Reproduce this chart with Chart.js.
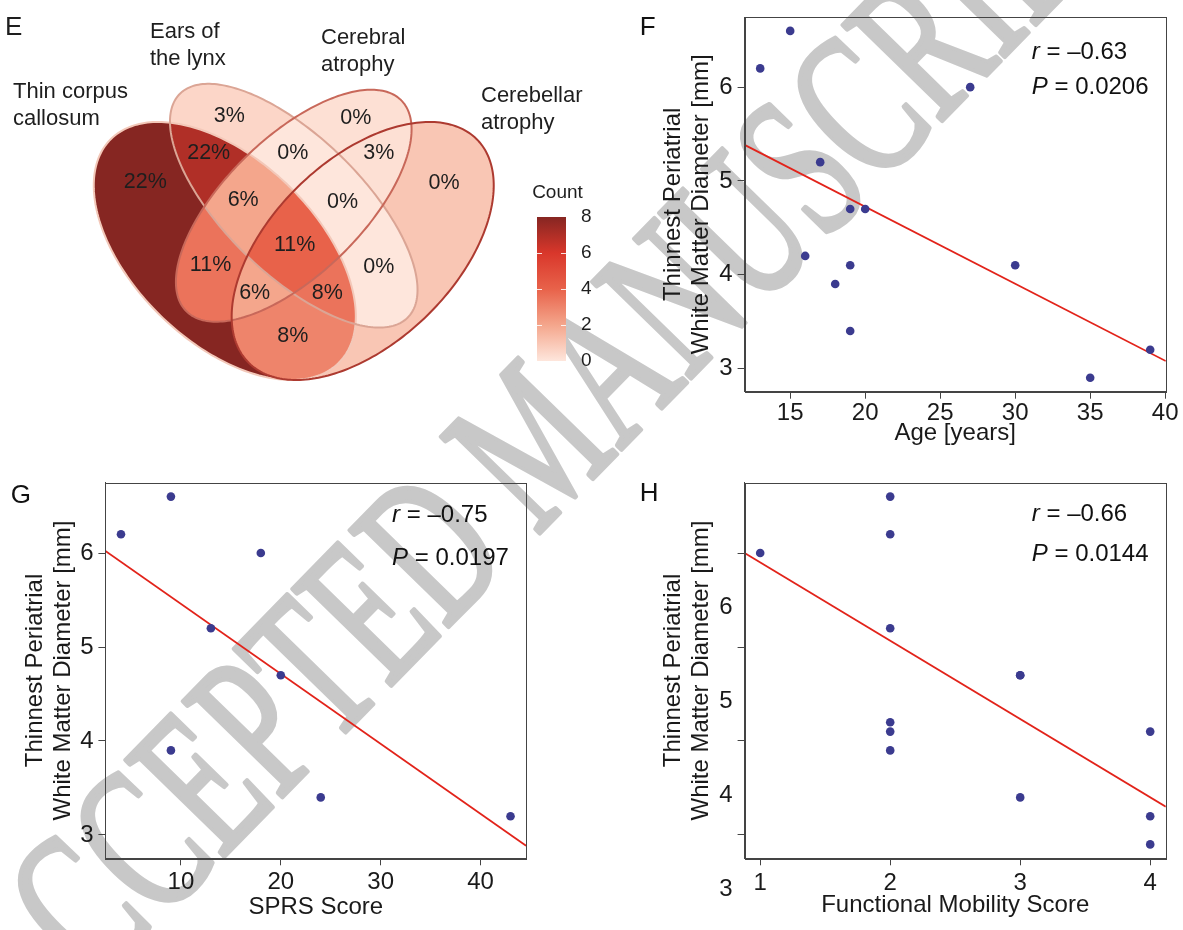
<!DOCTYPE html>
<html>
<head>
<meta charset="utf-8">
<script src="https://cdn.jsdelivr.net/npm/chart.js@4.4.1/dist/chart.umd.min.js"></script>
<style>
  body { margin: 0; background: #fff; width: 1183px; height: 930px; position: relative; overflow: hidden; }
  canvas { position: absolute; }
</style>
</head>
<body>
<canvas id="wm" width="1183" height="930" style="left:0;top:0"></canvas>
<canvas id="venn" width="620" height="460" style="left:0;top:0"></canvas>
<canvas id="cbar" width="100" height="210" style="left:500px;top:170px"></canvas>
<canvas id="panelF" width="563" height="460" style="left:620px;top:0"></canvas>
<canvas id="panelG" width="620" height="470" style="left:0;top:460px"></canvas>
<canvas id="panelH" width="563" height="470" style="left:620px;top:460px"></canvas>
<script>
// ---- data ----
// per patient, sorted by diameter
var diameterMm    = [6.6, 6.2, 6.0, 5.2, 4.7, 4.7, 4.2, 4.1, 4.1, 3.9, 3.4, 3.2, 2.9];
var ageYears      = [15, 13, 27, 17, 19, 20, 16, 19, 30, 18, 19, 39, 35];
var sprsScore     = [9, 4, 18, 13, 20, null, null, null, null, 9, 24, 43, null];
var mobilityScore = [2, 2, 1, 2, 3, 3, 2, 2, 4, 2, 3, 4, 4];

var ageTicks      = [15, 20, 25, 30, 35, 40];
var sprsTicks     = [10, 20, 30, 40];
var mobilityTicks = [1, 2, 3, 4];
var diameterTicks = [3, 4, 5, 6];

var statsF = ['–0.63', '0.0206'];
var statsG = ['–0.75', '0.0197'];
var statsH = ['–0.66', '0.0144'];

// venn: A = thin corpus callosum, B = ears of the lynx, C = cerebral, D = cerebellar
var vennSets      = [['Thin corpus', 'callosum'], ['Ears of', 'the lynx'], ['Cerebral', 'atrophy'], ['Cerebellar', 'atrophy']];
var vennRegions   = ['A', 'B', 'C', 'D', 'AB', 'AC', 'AD', 'BC', 'BD', 'CD', 'ABC', 'ABD', 'ACD', 'BCD', 'ABCD'];
var vennPercent   = ['22%', '3%', '0%', '0%', '22%', '11%', '8%', '0%', '0%', '3%', '6%', '8%', '6%', '0%', '11%'];
var vennFillCount = [8, 0.5, 0.2, 1, 7, 3.5, 3, 0, 0, 0.2, 2, 3.5, 2, 0, 4];
var countTicks    = [0, 2, 4, 6, 8];
var countColors   = ['#fee6dc', '#f4a68c', '#e8624a', '#d9372b', '#862622'];

// ---- style / layout ----
var FONT = '"Liberation Sans", Arial, Helvetica, sans-serif';
var SET_KEYS = ['A', 'B', 'C', 'D'];
// ggVennDiagram 4-set ellipses: x0, y0, a, b, rotation
var vennShapes = [
  [0.35, 0.47, 0.35, 0.20, 135],
  [0.50, 0.57, 0.35, 0.15, 135],
  [0.50, 0.57, 0.33, 0.15, 45],
  [0.65, 0.47, 0.35, 0.20, 45]
];
// label anchor of each region, in the same units as the shapes
var vennLabelPos = [
  [0.177, 0.623], [0.360, 0.767], [0.635, 0.763], [0.827, 0.620],
  [0.315, 0.686], [0.319, 0.439], [0.498, 0.281], [0.498, 0.686], [0.685, 0.435], [0.685, 0.686],
  [0.390, 0.583], [0.573, 0.376], [0.415, 0.376], [0.606, 0.579], [0.502, 0.483]
];
var vennEdge = ['#f3c8b9', '#dba595', '#c8685a', '#ad3a30'];
var vennSetPos = [[13, 92], [150, 32], [321, 38], [481, 96]];

Chart.defaults.font.family = FONT;
Chart.defaults.color = '#1a1a1a';

function hexRgb(h) {
  return [parseInt(h.substr(1, 2), 16), parseInt(h.substr(3, 2), 16), parseInt(h.substr(5, 2), 16)];
}
function countColor(v) {
  var i = 0;
  while (i < countTicks.length - 2 && v > countTicks[i + 1]) i++;
  var t = (v - countTicks[i]) / (countTicks[i + 1] - countTicks[i]);
  var a = hexRgb(countColors[i]), b = hexRgb(countColors[i + 1]);
  return 'rgb(' + a.map(function (c, k) { return Math.round(c + (b[k] - c) * t); }).join(',') + ')';
}

// ---- watermark (behind everything) ----
(function () {
  var wm = document.getElementById('wm').getContext('2d');
  var text = 'ACCEPTED MANUSCRIPT';
  wm.font = '210px "Liberation Serif", "Times New Roman", serif';
  var pre = wm.measureText('AC').width, cw = wm.measureText('C').width;
  var ang = -45.7 * Math.PI / 180, capH = 139;
  var upx = Math.sin(ang), upy = -Math.cos(ang);
  wm.save();
  // centre of the second C sits near (140, 843)
  wm.translate(140 - upx * capH / 2, 843 - upy * capH / 2);
  wm.rotate(ang);
  wm.scale(0.64, 1);
  wm.fillStyle = '#c8c8c8';
  wm.strokeStyle = '#c8c8c8';
  wm.lineWidth = 5;
  wm.lineJoin = 'round';
  wm.fillText(text, -(pre + cw / 2), 0);
  wm.strokeText(text, -(pre + cw / 2), 0);
  wm.restore();
})();

// ---- panel E: venn ----
var vennPlugin = {
  id: 'venn',
  afterDraw: function (chart) {
    var ctx = chart.ctx, ca = chart.chartArea, xs = chart.scales.x, ys = chart.scales.y;
    function trace(e) {
      var r = e[4] * Math.PI / 180;
      for (var k = 0; k <= 240; k++) {
        var t = k / 240 * 2 * Math.PI;
        var ex = e[0] + e[2] * Math.cos(t) * Math.cos(r) - e[3] * Math.sin(t) * Math.sin(r);
        var ey = e[1] + e[2] * Math.cos(t) * Math.sin(r) + e[3] * Math.sin(t) * Math.cos(r);
        if (k) ctx.lineTo(xs.getPixelForValue(ex), ys.getPixelForValue(ey));
        else ctx.moveTo(xs.getPixelForValue(ex), ys.getPixelForValue(ey));
      }
      ctx.closePath();
    }
    vennRegions.forEach(function (key, r) {
      ctx.save();
      vennShapes.forEach(function (e, i) {
        ctx.beginPath();
        if (key.indexOf(SET_KEYS[i]) >= 0) { trace(e); ctx.clip(); }
        else { ctx.rect(ca.left, ca.top, ca.width, ca.height); trace(e); ctx.clip('evenodd'); }
      });
      ctx.fillStyle = countColor(vennFillCount[r]);
      ctx.fillRect(ca.left, ca.top, ca.width, ca.height);
      ctx.restore();
    });
    vennShapes.forEach(function (e, i) {
      ctx.beginPath(); trace(e);
      ctx.strokeStyle = vennEdge[i]; ctx.lineWidth = 2; ctx.stroke();
    });
    ctx.save();
    ctx.fillStyle = '#1e1e1e';
    ctx.textAlign = 'center'; ctx.textBaseline = 'middle';
    ctx.font = '21.5px ' + FONT;
    vennRegions.forEach(function (key, r) {
      var p = vennLabelPos[r];
      ctx.fillText(vennPercent[r], xs.getPixelForValue(p[0]), ys.getPixelForValue(p[1]));
    });
    ctx.textAlign = 'left';
    ctx.font = '22px ' + FONT;
    vennSets.forEach(function (lines, i) {
      lines.forEach(function (line, j) {
        ctx.fillText(line, vennSetPos[i][0], vennSetPos[i][1] + j * 26.7);
      });
    });
    ctx.font = '26px ' + FONT;
    ctx.fillText('E', 5, 28);
    ctx.restore();
  }
};

new Chart(document.getElementById('venn'), {
  type: 'scatter',
  data: { datasets: [] },
  options: {
    responsive: false, animation: false, devicePixelRatio: 1,
    layout: { padding: 0 },
    plugins: { legend: { display: false }, tooltip: { enabled: false } },
    scales: {
      x: { type: 'linear', display: false, min: -0.139, max: 1.2097 },
      y: { type: 'linear', display: false, min: 0.0082, max: 1.0245 }
    }
  },
  plugins: [vennPlugin]
});

// colour bar
new Chart(document.getElementById('cbar'), {
  type: 'bar',
  data: {
    labels: ['Count'],
    datasets: [{
      data: [[countTicks[0], countTicks[countTicks.length - 1]]],
      barPercentage: 1, categoryPercentage: 1, borderWidth: 0,
      backgroundColor: function (c) {
        var ca = c.chart.chartArea;
        if (!ca) return countColors[2];
        var g = c.chart.ctx.createLinearGradient(0, ca.bottom, 0, ca.top);
        countColors.forEach(function (col, i) { g.addColorStop(i / (countColors.length - 1), col); });
        return g;
      }
    }]
  },
  options: {
    responsive: false, animation: false, devicePixelRatio: 1,
    layout: { padding: { left: 37, top: 47, bottom: 19, right: 0 } },
    plugins: { legend: { display: false }, tooltip: { enabled: false } },
    scales: {
      x: { display: false },
      y: {
        position: 'right', min: 0, max: 8,
        afterBuildTicks: function (s) { s.ticks = countTicks.map(function (v) { return { value: v }; }); },
        afterFit: function (s) { s.width = 34; },
        grid: { display: false }, border: { display: false },
        ticks: { padding: 7, font: { size: 19 }, color: '#1e1e1e' }
      }
    }
  },
  plugins: [{
    id: 'cbarMarks',
    afterDraw: function (chart) {
      var ctx = chart.ctx, ca = chart.chartArea, s = chart.scales.y;
      ctx.save();
      ctx.strokeStyle = 'rgba(255,255,255,0.85)'; ctx.lineWidth = 1;
      [2, 4, 6].forEach(function (v) {
        var yy = Math.round(s.getPixelForValue(v)) + 0.5;
        ctx.beginPath();
        ctx.moveTo(ca.left, yy); ctx.lineTo(ca.left + 5, yy);
        ctx.moveTo(ca.right - 5, yy); ctx.lineTo(ca.right, yy);
        ctx.stroke();
      });
      ctx.fillStyle = '#1e1e1e'; ctx.font = '19px ' + FONT;
      ctx.textAlign = 'center'; ctx.textBaseline = 'middle';
      ctx.fillText('Count', (ca.left + ca.right) / 2 + 6, 23);
      ctx.restore();
    }
  }]
});

// ---- panels F, G, H: scatter + least-squares line ----
function padRange(vals) {
  var lo = Math.min.apply(null, vals), hi = Math.max.apply(null, vals), d = (hi - lo) * 0.04;
  return [lo - d, hi + d];
}
function linFit(xs, ys) {
  var n = xs.length, mx = 0, my = 0, sxy = 0, sxx = 0;
  xs.forEach(function (x, i) { mx += x / n; my += ys[i] / n; });
  xs.forEach(function (x, i) { sxy += (x - mx) * (ys[i] - my); sxx += (x - mx) * (x - mx); });
  var b = sxy / sxx;
  return { a: my - b * mx, b: b };
}

function scatterPanel(id, xVals, xTicks, xTitle, stats, letter, g) {
  var pts = [];
  xVals.forEach(function (x, i) { if (x !== null) pts.push({ x: x, y: diameterMm[i] }); });
  var xr = padRange(pts.map(function (p) { return p.x; }));
  var yr = padRange(diameterMm);
  var fit = linFit(pts.map(function (p) { return p.x; }), pts.map(function (p) { return p.y; }));

  var panelPlugin = {
    id: 'panel',
    afterDraw: function (chart) {
      var ctx = chart.ctx, ca = chart.chartArea;
      ctx.save();
      ctx.strokeStyle = '#444'; ctx.lineWidth = 1;
      ctx.strokeRect(Math.round(ca.left) + 0.5, Math.round(ca.top) + 0.5, Math.round(ca.width), Math.round(ca.height));
      ctx.fillStyle = '#111'; ctx.textAlign = 'left'; ctx.textBaseline = 'middle';
      [['r', stats[0], g.statY[0]], ['P', stats[1], g.statY[1]]].forEach(function (s) {
        var x0 = ca.right - 134;
        ctx.font = 'italic 24px ' + FONT;
        ctx.fillText(s[0], x0, ca.top + s[2]);
        var w = ctx.measureText(s[0]).width;
        ctx.font = '24px ' + FONT;
        ctx.fillText(' = ' + s[1], x0 + w, ca.top + s[2]);
      });
      ctx.font = '26px ' + FONT;
      ctx.fillText(letter, g.letter[0], g.letter[1]);
      ctx.restore();
    }
  };

  return new Chart(document.getElementById(id), {
    type: 'scatter',
    data: {
      datasets: [
        { data: pts, backgroundColor: '#3b3b8f', borderWidth: 0, pointRadius: 4.3, pointHoverRadius: 4.3 },
        {
          type: 'line',
          data: [{ x: xr[0], y: fit.a + fit.b * xr[0] }, { x: xr[1], y: fit.a + fit.b * xr[1] }],
          borderColor: '#e2231a', borderWidth: 1.8, pointRadius: 0, fill: false
        }
      ]
    },
    options: {
      responsive: false, animation: false, devicePixelRatio: 1,
      layout: { padding: { top: g.padTop, right: g.padRight, left: 0, bottom: 0 } },
      plugins: { legend: { display: false }, tooltip: { enabled: false } },
      scales: {
        x: {
          type: 'linear', min: xr[0], max: xr[1],
          afterBuildTicks: function (s) { s.ticks = xTicks.map(function (v) { return { value: v }; }); },
          afterFit: function (s) { s.height = g.xHeight; },
          grid: { drawOnChartArea: false, tickLength: 7, color: '#444' },
          border: { color: '#444' },
          ticks: { font: { size: 24, lineHeight: 1 }, color: '#1a1a1a', padding: g.xTickPad, maxRotation: 0, autoSkip: false },
          title: { display: true, text: xTitle, font: { size: 24, lineHeight: 1.2 }, color: '#1a1a1a', padding: { top: 0, bottom: g.xTitlePad } }
        },
        y: {
          type: 'linear', min: yr[0], max: yr[1],
          afterBuildTicks: function (s) { s.ticks = diameterTicks.map(function (v) { return { value: v }; }); },
          afterFit: function (s) { s.width = g.yWidth; },
          grid: { drawOnChartArea: false, tickLength: 7, color: '#444' },
          border: { color: '#444' },
          ticks: { font: { size: 24, lineHeight: 1 }, color: '#1a1a1a', padding: g.yTickPad, labelOffset: g.yLabelOffset || 0 },
          title: {
            display: true, text: ['Thinnest Periatrial', 'White Matter Diameter [mm]'],
            font: { size: 24, lineHeight: g.yTitleLH }, color: '#1a1a1a', padding: { top: g.yTitlePad, bottom: 0 }
          }
        }
      }
    },
    plugins: [panelPlugin]
  });
}

scatterPanel('panelF', ageYears, ageTicks, 'Age [years]', statsF, 'F', {
  padTop: 15, padRight: 17.2, yWidth: 124.6, xHeight: 68.3,
  xTickPad: 2.3, yTickPad: 5, xTitlePad: 12.3, yTitlePad: 39.1, yTitleLH: 1.18,
  statY: [35, 70], letter: [19.7, 28]
});
scatterPanel('panelG', sprsScore, sprsTicks, 'SPRS Score', statsG, 'G', {
  padTop: 22.7, padRight: 93.9, yWidth: 105.4, xHeight: 71.7,
  xTickPad: 5.2, yTickPad: 4.8, xTitlePad: 8.6, yTitlePad: 20.5, yTitleLH: 1.2,
  statY: [32.5, 75.5], letter: [10.7, 36]
});
scatterPanel('panelH', mobilityScore, mobilityTicks, 'Functional Mobility Score', statsH, 'H', {
  padTop: 22.7, padRight: 17.2, yWidth: 124.6, xHeight: 71.7,
  xTickPad: 6, yTickPad: 5, xTitlePad: 10.6, yTitlePad: 39.1, yTitleLH: 1.18, yLabelOffset: 54,
  statY: [32, 71.6], letter: [19.7, 34]
});
</script>
</body>
</html>
